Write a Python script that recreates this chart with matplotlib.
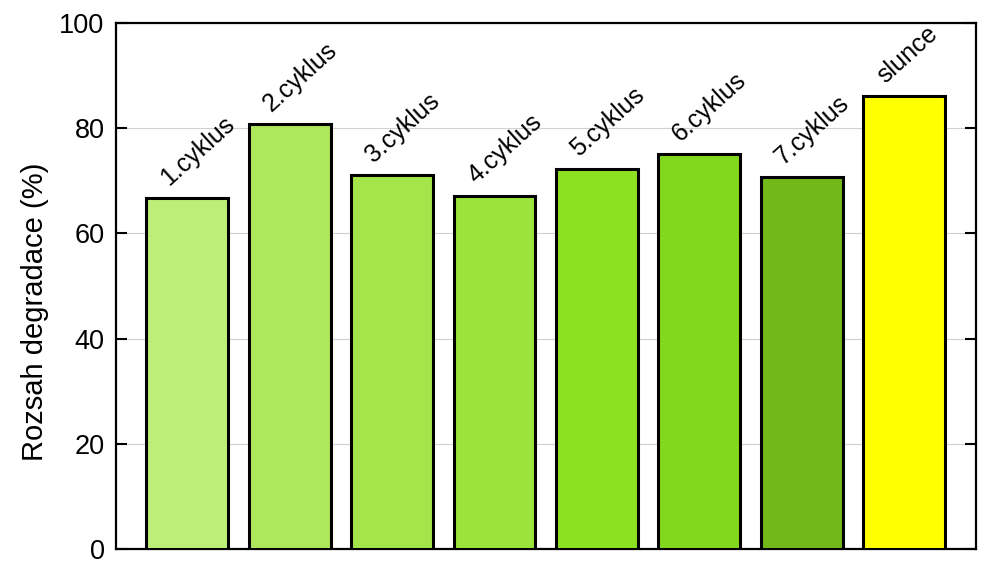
import matplotlib
matplotlib.use("Agg")
import matplotlib.pyplot as plt

plt.rcParams['font.family'] = ['Liberation Sans', 'DejaVu Sans']

# data
labels = ['1.cyklus', '2.cyklus', '3.cyklus', '4.cyklus', '5.cyklus', '6.cyklus', '7.cyklus', 'slunce']
values = [66.7, 80.8, 71.1, 67.1, 72.2, 75.1, 70.7, 86.1]
colors = ['#bdee78', '#ade85c', '#a4e64a', '#9ae43c', '#8ce220', '#82d81c', '#72b819', '#ffff00']

fig = plt.figure(figsize=(9.99, 5.75), dpi=100)
ax = fig.add_axes([0.1158, 0.0452, 0.8609, 0.9148])

x = range(len(values))
ax.bar(x, values, width=0.8, color=colors, edgecolor='black', linewidth=2.2, zorder=3)

for i, v in enumerate(values):
    ax.text(i - 0.15, v + 1.6, labels[i], rotation=42, ha='left', va='bottom',
            rotation_mode='anchor', fontsize=18)

ax.set_xlim(-0.7, 7.7)
ax.set_ylim(0, 100)
ax.set_yticks([0, 20, 40, 60, 80, 100])
ax.set_xticks([])
ax.yaxis.grid(True, color='#d0d0d0', linewidth=0.8, zorder=0)
ax.set_axisbelow(True)

ax.tick_params(axis='y', direction='in', length=8, width=1.5, labelsize=19.5,
               right=True, left=True, pad=8)
for s in ax.spines.values():
    s.set_linewidth(1.6)

ax.set_ylabel('Rozsah degradace (%)', fontsize=21)
ax.yaxis.set_label_coords(-0.078, 0.45)

fig.savefig('out.png', dpi=100)
